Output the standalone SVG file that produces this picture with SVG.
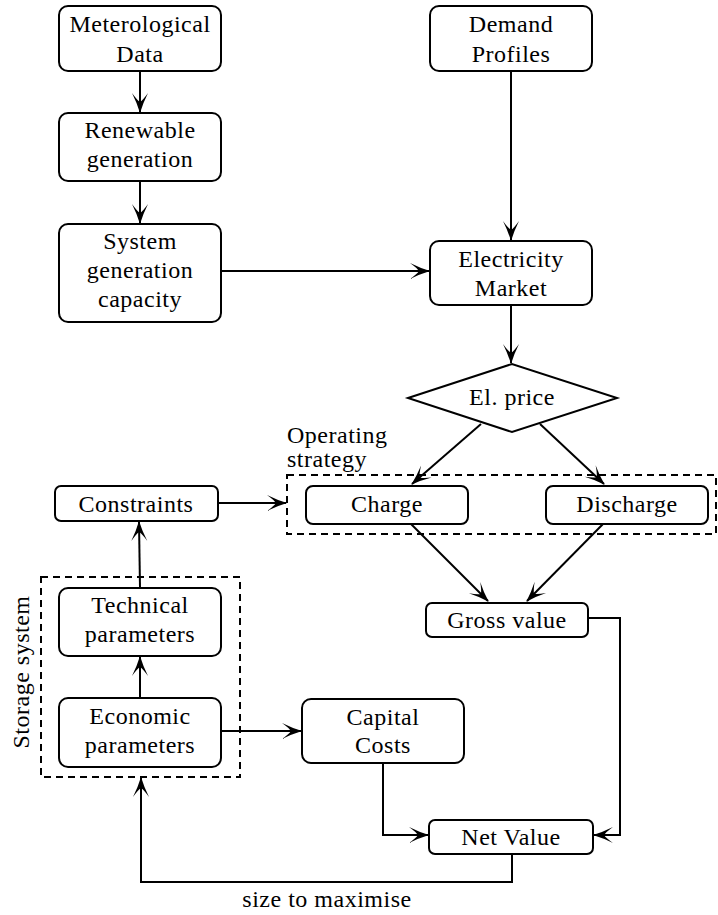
<svg xmlns="http://www.w3.org/2000/svg" width="718" height="915" viewBox="0 0 718 915">
<style>
.box{fill:#fff;stroke:#000;stroke-width:2}
.dash{fill:none;stroke:#000;stroke-width:2;stroke-dasharray:7,5}
text{font-family:'Liberation Serif',serif;font-size:24px;letter-spacing:0.5px;fill:#000}
.t{text-anchor:middle}
.c{fill:none;stroke:#000;stroke-width:2}
</style>
<defs>
<marker id="ah" viewBox="-20 -9 22 18" refX="0" refY="0" markerWidth="22" markerHeight="18" markerUnits="userSpaceOnUse" orient="auto">
<path d="M1,0 Q-9,-3 -19,-8 Q-12,-3 -10,0 Q-12,3 -19,8 Q-9,3 1,0 Z" fill="#000"/>
</marker>
</defs>
<rect width="718" height="915" fill="#fff"/>

<g id="groups">
<rect class="dash" x="287" y="475" width="429" height="59"/>
<text x="287" y="443">Operating</text>
<text x="287" y="467">strategy</text>
<rect class="dash" x="41" y="577" width="199" height="200"/>
<text class="t" transform="translate(29,672) rotate(-90)">Storage system</text>
</g>

<g id="connectors">
<line class="c" x1="140" y1="71" x2="140" y2="112" marker-end="url(#ah)"/>
<line class="c" x1="140" y1="181" x2="140" y2="223" marker-end="url(#ah)"/>
<line class="c" x1="511" y1="71" x2="511" y2="240" marker-end="url(#ah)"/>
<line class="c" x1="221" y1="271" x2="429" y2="271" marker-end="url(#ah)"/>
<line class="c" x1="511" y1="305" x2="511" y2="363" marker-end="url(#ah)"/>
<line class="c" x1="481" y1="424" x2="412" y2="484" marker-end="url(#ah)"/>
<line class="c" x1="540" y1="424" x2="604" y2="484" marker-end="url(#ah)"/>
<line class="c" x1="411" y1="524" x2="488" y2="601" marker-end="url(#ah)"/>
<line class="c" x1="603" y1="524" x2="527" y2="601" marker-end="url(#ah)"/>
<line class="c" x1="218" y1="503" x2="286" y2="503" marker-end="url(#ah)"/>
<line class="c" x1="140" y1="698" x2="140" y2="657" marker-end="url(#ah)"/>
<line class="c" x1="140" y1="588" x2="139" y2="522" marker-end="url(#ah)"/>
<line class="c" x1="221" y1="731" x2="301" y2="731" marker-end="url(#ah)"/>
<polyline class="c" points="383,763 383,835 428,835" marker-end="url(#ah)"/>
<polyline class="c" points="588,618 620,618 620,835 594,835" marker-end="url(#ah)"/>
<polyline class="c" points="512,854 512,882 141,882 141,778" marker-end="url(#ah)"/>
<text class="t" x="327" y="907">size to maximise</text>
</g>

<g id="meteo"><rect class="box" x="59" y="6" width="162" height="65" rx="9"/><text class="t" x="140" y="32">Meterological</text><text class="t" x="140" y="62">Data</text></g>
<g id="renewable"><rect class="box" x="59" y="113" width="162" height="68" rx="9"/><text class="t" x="140" y="138">Renewable</text><text class="t" x="140" y="167">generation</text></g>
<g id="sysgen"><rect class="box" x="59" y="224" width="162" height="98" rx="9"/><text class="t" x="140" y="249">System</text><text class="t" x="140" y="278">generation</text><text class="t" x="140" y="307">capacity</text></g>
<g id="demand"><rect class="box" x="430" y="6" width="162" height="65" rx="9"/><text class="t" x="511" y="32">Demand</text><text class="t" x="511" y="62">Profiles</text></g>
<g id="market"><rect class="box" x="430" y="241" width="162" height="64" rx="9"/><text class="t" x="511" y="267">Electricity</text><text class="t" x="511" y="296">Market</text></g>
<g id="price"><polygon class="box" points="408,398 512,364 617,398 512,432"/><text class="t" x="512" y="405">El. price</text></g>
<g id="charge"><rect class="box" x="306" y="486" width="162" height="38" rx="7"/><text class="t" x="387" y="512">Charge</text></g>
<g id="discharge"><rect class="box" x="546" y="486" width="162" height="38" rx="7"/><text class="t" x="627" y="512">Discharge</text></g>
<g id="gross"><rect class="box" x="426" y="603" width="162" height="34" rx="6"/><text class="t" x="507" y="628">Gross value</text></g>
<g id="constraints"><rect class="box" x="55" y="486" width="163" height="35" rx="6"/><text class="t" x="136" y="512">Constraints</text></g>
<g id="technical"><rect class="box" x="59" y="588" width="162" height="68" rx="9"/><text class="t" x="140" y="613">Technical</text><text class="t" x="140" y="642">parameters</text></g>
<g id="economic"><rect class="box" x="59" y="698" width="162" height="69" rx="9"/><text class="t" x="140" y="724">Economic</text><text class="t" x="140" y="753">parameters</text></g>
<g id="capital"><rect class="box" x="302" y="699" width="162" height="64" rx="9"/><text class="t" x="383" y="725">Capital</text><text class="t" x="383" y="753">Costs</text></g>
<g id="net"><rect class="box" x="429" y="820" width="164" height="34" rx="6"/><text class="t" x="511" y="845">Net Value</text></g>
</svg>
